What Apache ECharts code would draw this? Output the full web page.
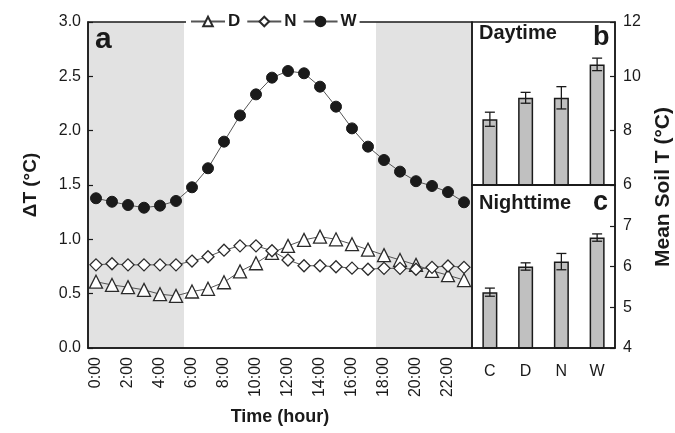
<!DOCTYPE html>
<html><head><meta charset="utf-8">
<script src="https://cdn.jsdelivr.net/npm/echarts@6/dist/echarts.min.js"></script>
<style>html,body{margin:0;padding:0;background:#fff}#c{width:675px;height:433px}</style>
</head><body><div id="c"></div>
<script>
const hours = ['0:00','1:00','2:00','3:00','4:00','5:00','6:00','7:00','8:00','9:00','10:00','11:00','12:00','13:00','14:00','15:00','16:00','17:00','18:00','19:00','20:00','21:00','22:00','23:00'];
const seriesD = [0.61,0.58,0.56,0.535,0.495,0.48,0.52,0.545,0.605,0.705,0.78,0.875,0.94,0.995,1.025,1.0,0.955,0.905,0.855,0.81,0.765,0.71,0.67,0.625];
const seriesN = [0.765,0.775,0.765,0.765,0.765,0.765,0.80,0.84,0.90,0.94,0.94,0.895,0.81,0.757,0.757,0.748,0.735,0.725,0.733,0.733,0.725,0.742,0.755,0.742];
const seriesW = [1.378,1.346,1.316,1.291,1.31,1.353,1.479,1.654,1.899,2.14,2.334,2.488,2.549,2.528,2.405,2.221,2.021,1.853,1.73,1.623,1.535,1.491,1.435,1.341];
const nightShade = [1,1,1,1,1,1,0,0,0,0,0,0,0,0,0,0,0,0,1,1,1,1,1,1];
const soilCats = ['C','D','N','W'];
const dayMean = [8.42,9.21,9.21,10.44];
const dayErr = [0.26,0.2,0.41,0.23];
const nightMean = [5.37,6.0,6.12,6.71];
const nightErr = [0.1,0.09,0.2,0.09];

const FF = '"Liberation Sans", Arial, Helvetica, sans-serif';
const INK = '#1a1a1a';
const chart = echarts.init(document.getElementById('c'));

function errSeries(xi, yi, means, errs) {
  return {
    type: 'custom', xAxisIndex: xi, yAxisIndex: yi, z: 6, silent: true,
    encode: { x: 0, y: [1, 2] },
    data: means.map((m, i) => [i, m - errs[i], m + errs[i]]),
    renderItem(params, api) {
      const x = api.value(0);
      const lo = api.coord([x, api.value(1)]);
      const hi = api.coord([x, api.value(2)]);
      const w = 5;
      const st = { stroke: INK, lineWidth: 1.3 };
      return { type: 'group', children: [
        { type: 'line', shape: { x1: lo[0], y1: lo[1], x2: hi[0], y2: hi[1] }, style: st },
        { type: 'line', shape: { x1: lo[0]-w, y1: lo[1], x2: lo[0]+w, y2: lo[1] }, style: st },
        { type: 'line', shape: { x1: hi[0]-w, y1: hi[1], x2: hi[0]+w, y2: hi[1] }, style: st }
      ]};
    }
  };
}

const lineStyle = { color: '#555', width: 1 };
const txt = (t, x, y, size, extra) => Object.assign({
  type: 'text', x: x, y: y, z: 100,
  style: { text: t, font: 'bold ' + size + 'px ' + FF, fill: INK, align: 'left', verticalAlign: 'middle' }
}, extra || {});

chart.setOption({
  animation: false,
  textStyle: { fontFamily: FF },
  grid: [
    { left: 88, top: 22, width: 384, height: 326, show: true, borderColor: INK, borderWidth: 1.5, backgroundColor: 'transparent', z: 10 },
    { left: 472, top: 22, width: 143, height: 163, show: true, borderColor: INK, borderWidth: 1.5, backgroundColor: 'transparent', z: 10 },
    { left: 472, top: 185, width: 143, height: 163, show: true, borderColor: INK, borderWidth: 1.5, backgroundColor: 'transparent', z: 10 }
  ],
  legend: {
    data: ['D', 'N', 'W'], left: 186, top: 12, z: 20,
    backgroundColor: '#fff', padding: [1, 3, 1, 4],
    itemWidth: 34, itemHeight: 12, itemGap: 6,
    textStyle: { fontFamily: FF, fontWeight: 'bold', fontSize: 17, color: INK, padding: [0, 0, 0, -2] }
  },
  xAxis: [
    { type: 'category', gridIndex: 0, data: hours, boundaryGap: true, z: 11,
      axisLine: { lineStyle: { color: INK, width: 1.5 } },
      axisTick: { inside: true, length: 5, interval: 0, lineStyle: { color: INK, width: 1.2 } },
      axisLabel: { interval: 1, rotate: 90, fontSize: 16, color: INK, margin: 9, fontFamily: FF },
      name: 'Time (hour)', nameLocation: 'middle', nameGap: 60,
      nameTextStyle: { fontSize: 18, fontWeight: 'bold', color: INK, fontFamily: FF } },
    { type: 'category', gridIndex: 1, data: soilCats, z: 11,
      axisLine: { lineStyle: { color: INK, width: 1.5 } },
      axisTick: { inside: true, length: 5, lineStyle: { color: INK, width: 1.2 } },
      axisLabel: { show: false } },
    { type: 'category', gridIndex: 2, data: soilCats, z: 11,
      axisLine: { lineStyle: { color: INK, width: 1.5 } },
      axisTick: { inside: true, length: 5, lineStyle: { color: INK, width: 1.2 } },
      axisLabel: { fontSize: 16, color: INK, margin: 16, fontFamily: FF } }
  ],
  yAxis: [
    { type: 'value', gridIndex: 0, min: 0, max: 3, interval: 0.5, z: 11,
      axisLine: { show: true, lineStyle: { color: INK, width: 1.5 } },
      axisTick: { show: true, inside: true, length: 5, lineStyle: { color: INK, width: 1.2 } },
      splitLine: { show: false },
      axisLabel: { fontSize: 16, color: INK, margin: 7, fontFamily: FF, formatter: v => v.toFixed(1) },
      name: 'ΔT (°C)', nameLocation: 'middle', nameGap: 48,
      nameTextStyle: { fontSize: 19, fontWeight: 'bold', color: INK, fontFamily: FF } },
    { type: 'value', gridIndex: 0, min: 0, max: 1, show: false },
    { type: 'value', gridIndex: 1, position: 'right', min: 6, max: 12, interval: 2, z: 11,
      axisLine: { show: true, lineStyle: { color: INK, width: 1.5 } },
      axisTick: { show: true, inside: true, length: 5, lineStyle: { color: INK, width: 1.2 } },
      splitLine: { show: false },
      axisLabel: { fontSize: 16, color: INK, margin: 8, fontFamily: FF } },
    { type: 'value', gridIndex: 2, position: 'right', min: 4, max: 8, interval: 1, z: 11,
      axisLine: { show: true, lineStyle: { color: INK, width: 1.5 } },
      axisTick: { show: true, inside: true, length: 5, lineStyle: { color: INK, width: 1.2 } },
      splitLine: { show: false },
      axisLabel: { fontSize: 16, color: INK, margin: 8, fontFamily: FF, showMaxLabel: false } }
  ],
  series: [
    { type: 'bar', name: 'shade', xAxisIndex: 0, yAxisIndex: 1, silent: true, z: 1,
      barCategoryGap: '0%', itemStyle: { color: '#e2e2e2' },
      data: nightShade.map(v => v ? v : '-') },
    { type: 'line', name: 'D', xAxisIndex: 0, yAxisIndex: 0, data: seriesD,
      symbol: 'triangle', symbolSize: 13, showAllSymbol: true, lineStyle: lineStyle,
      itemStyle: { color: '#fff', borderColor: '#2a2a2a', borderWidth: 1.3 } },
    { type: 'line', name: 'N', xAxisIndex: 0, yAxisIndex: 0, data: seriesN,
      symbol: 'diamond', symbolSize: 12, showAllSymbol: true, lineStyle: lineStyle,
      itemStyle: { color: '#fff', borderColor: '#2a2a2a', borderWidth: 1.3 } },
    { type: 'line', name: 'W', xAxisIndex: 0, yAxisIndex: 0, data: seriesW,
      symbol: 'circle', symbolSize: 11, showAllSymbol: true, lineStyle: lineStyle,
      itemStyle: { color: INK, borderColor: INK, borderWidth: 1 } },
    { type: 'bar', name: 'day', xAxisIndex: 1, yAxisIndex: 2, data: dayMean, barWidth: 15,
      itemStyle: { color: '#c0c0c0', borderColor: INK, borderWidth: 1.5 } },
    errSeries(1, 2, dayMean, dayErr),
    { type: 'bar', name: 'night', xAxisIndex: 2, yAxisIndex: 3, data: nightMean, barWidth: 15,
      itemStyle: { color: '#c0c0c0', borderColor: INK, borderWidth: 1.5 } },
    errSeries(2, 3, nightMean, nightErr)
  ],
  graphic: [
    txt('a', 95, 40, 30),
    txt('Daytime', 479, 33, 20),
    txt('b', 593, 38, 27),
    txt('Nighttime', 479, 203, 20),
    txt('c', 593, 203, 27),
    txt('Mean Soil T (°C)', 663, 187, 21, { rotation: Math.PI / 2, style: { text: 'Mean Soil T (°C)', font: 'bold 21px ' + FF, fill: INK, align: 'center', verticalAlign: 'middle' } })
  ]
});
</script></body></html>
